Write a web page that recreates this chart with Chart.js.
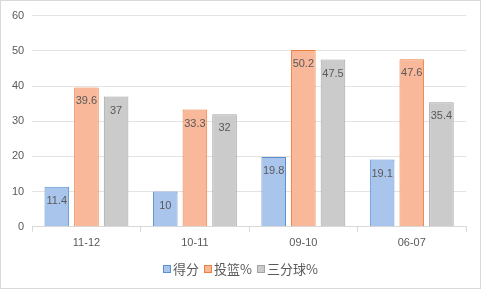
<!DOCTYPE html>
<html><head><meta charset="utf-8">
<script src="https://cdn.jsdelivr.net/npm/chart.js@4/dist/chart.umd.min.js"></script>
<style>html,body{margin:0;padding:0;background:#fff}#w{width:481px;height:289px;position:relative;box-sizing:border-box;border:1px solid #d9d9d9}</style>
</head><body><div id="w"><canvas id="c"></canvas></div>
<script>
const categories = ['11-12','10-11','09-10','06-07'];
const seriesNames = ['得分','投篮%','三分球%'];
const scoreVals = [11.4, 10, 19.8, 19.1];
const fgVals = [39.6, 33.3, 50.2, 47.6];
const threeVals = [37, 32, 47.5, 35.4];
const yTicks = [0,10,20,30,40,50,60];

const labelPlugin = {
  id: 'labels',
  afterDatasetsDraw(chart) {
    const ctx = chart.ctx;
    ctx.save();
    ctx.font = '11px "Liberation Sans", "DejaVu Sans", sans-serif';
    ctx.fillStyle = '#595959';
    ctx.textAlign = 'center';
    ctx.textBaseline = 'middle';
    chart.data.datasets.forEach((ds, i) => {
      chart.getDatasetMeta(i).data.forEach((bar, j) => {
        ctx.fillText(String(ds.data[j]), bar.x, bar.y + 14);
      });
    });
    ctx.restore();
  }
};

const legendPlugin = {
  id: 'compactLegend',
  afterDraw(chart) {
    const ctx = chart.ctx;
    ctx.save();
    ctx.font = '13px "Noto Sans CJK SC", sans-serif';
    ctx.textBaseline = 'middle';
    ctx.textAlign = 'left';
    const box = 8, gapBT = 2, gapItem = 5;
    const items = chart.data.datasets.map(ds => ({ds, w: ctx.measureText(ds.label).width}));
    let total = 0;
    items.forEach((it, i) => { total += box + gapBT + it.w + (i ? gapItem : 0); });
    let x = Math.round(chart.width / 2 - total / 2);
    const y = 268;
    items.forEach(it => {
      ctx.fillStyle = it.ds.backgroundColor;
      ctx.strokeStyle = it.ds.borderColor;
      ctx.lineWidth = 1;
      ctx.fillRect(x, y - 4, box, box);
      ctx.strokeRect(x + 0.5, y - 3.5, box - 1, box - 1);
      ctx.fillStyle = '#595959';
      ctx.fillText(it.ds.label, x + box + gapBT, y);
      x += box + gapBT + it.w + gapItem;
    });
    ctx.restore();
  }
};

new Chart(document.getElementById('c'), {
  type: 'bar',
  data: {
    labels: categories,
    datasets: [
      {label: seriesNames[0], data: scoreVals, backgroundColor: '#a9c5eb', borderColor: '#5b8fd2', borderWidth: 1},
      {label: seriesNames[1], data: fgVals, backgroundColor: '#f8b899', borderColor: '#ee7e3c', borderWidth: 1},
      {label: seriesNames[2], data: threeVals, backgroundColor: '#cbcbcb', borderColor: '#a3a3a3', borderWidth: 1}
    ]
  },
  options: {
    responsive: true,
    maintainAspectRatio: false,
    animation: false,
    layout: {padding: {left: 3, right: 14, top: 8, bottom: 33}},
    datasets: {bar: {categoryPercentage: 0.82, barPercentage: 0.83}},
    plugins: {
      legend: {display: false},
      tooltip: {enabled: false}
    },
    scales: {
      x: {
        grid: {drawOnChartArea: false, drawTicks: true, tickLength: 5, color: '#d9d9d9'},
        border: {color: '#d9d9d9'},
        ticks: {color: '#595959', font: {size: 11, family: '"Liberation Sans", sans-serif'}, padding: 5}
      },
      y: {
        min: 0, max: 60,
        afterBuildTicks(axis) { axis.ticks = yTicks.map(v => ({value: v})); },
        grid: {color: '#e3e3e3', drawTicks: false},
        border: {display: false},
        ticks: {color: '#595959', font: {size: 11, family: '"Liberation Sans", sans-serif'}, padding: 8}
      }
    }
  },
  plugins: [labelPlugin, legendPlugin]
});
</script></body></html>
